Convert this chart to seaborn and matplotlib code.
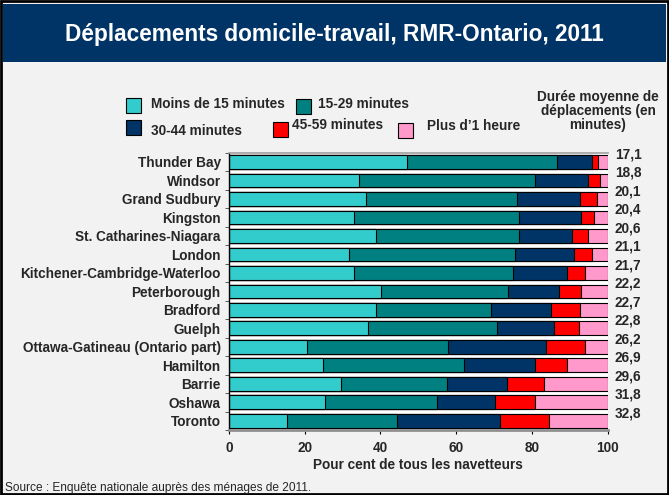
import numpy as np
import pandas as pd
import seaborn as sns
import matplotlib.pyplot as plt
from matplotlib.patches import Rectangle
from matplotlib.transforms import offset_copy

# Data
cities = ['Thunder Bay', 'Windsor', 'Grand Sudbury', 'Kingston', 'St. Catharines-Niagara',
          'London', 'Kitchener-Cambridge-Waterloo', 'Peterborough', 'Bradford', 'Guelph',
          'Ottawa-Gatineau (Ontario part)', 'Hamilton', 'Barrie', 'Oshawa', 'Toronto']
moins_15 = [46.9, 34.2, 36.2, 32.9, 38.8, 31.7, 33.1, 40.2, 38.8, 36.6, 20.7, 24.8, 29.6, 25.4, 15.2]
min_15_29 = [39.8, 46.6, 39.9, 43.6, 37.9, 43.9, 42.0, 33.5, 30.5, 34.2, 37.1, 37.2, 28.0, 29.5, 29.1]
min_30_44 = [9.1, 13.9, 16.6, 16.4, 14.0, 15.6, 14.1, 13.5, 15.6, 14.9, 25.9, 18.9, 15.9, 15.3, 27.3]
min_45_59 = [1.7, 3.3, 4.4, 3.6, 4.2, 4.6, 4.7, 5.7, 7.8, 6.8, 10.3, 8.3, 9.6, 10.7, 12.8]
plus_1h = [2.5, 2.0, 2.9, 3.5, 5.1, 4.2, 6.1, 7.1, 7.3, 7.5, 6.0, 10.8, 16.9, 19.1, 15.6]
duree = ['17,1', '18,8', '20,1', '20,4', '20,6', '21,1', '21,7', '22,2', '22,7', '22,8',
         '26,2', '26,9', '29,6', '31,8', '32,8']

series = ['Moins de 15 minutes', '15-29 minutes', '30-44 minutes', '45-59 minutes', 'Plus d\u20191 heure']
colors = ['#33CCCC', '#008080', '#003366', '#FF0000', '#FF99CC']

df = pd.DataFrame({'ville': cities})
parts = [moins_15, min_15_29, min_30_44, min_45_59, plus_1h]
cum = np.cumsum(np.array(parts), axis=0)

sns.set_style('white')
plt.rcParams['font.family'] = ['Liberation Sans', 'DejaVu Sans']
plt.rcParams['font.weight'] = 'bold'

FS = 9.8
W, H = 669, 495
fig = plt.figure(figsize=(W / 100, H / 100), dpi=100, facecolor='#F2F2F2')


def fx(px):
    return px / W


def fy(py):
    return 1 - py / H


# Title banner
fig.add_artist(Rectangle((fx(3), fy(62)), fx(663), 58 / H, transform=fig.transFigure,
                         facecolor='#003366', edgecolor='none'))
fig.text(0.5, fy(34), 'D\u00e9placements domicile-travail, RMR-Ontario, 2011',
         ha='center', va='center', color='white', fontsize=16.3, fontweight='bold')

ax = fig.add_axes([fx(229), fy(430), fx(607.7) - fx(229), (430 - 152.7) / H])
ax.set_facecolor('white')

# Stacked bars: draw cumulative totals from the largest down
for k in range(4, -1, -1):
    df['val'] = cum[k]
    sns.barplot(data=df, x='val', y='ville', order=cities, orient='h', color=colors[k],
                width=0.74, edgecolor='black', linewidth=0.8, saturation=1, ax=ax)

ax.set_xlim(0, 100)
ax.set_ylim(14.5, -0.5)
ax.set_xticks([0, 20, 40, 60, 80, 100])
ax.set_xlabel('Pour cent de tous les navetteurs', fontsize=FS, fontweight='bold', labelpad=2)
ax.set_ylabel('')
ax.tick_params(axis='x', labelsize=FS, length=3, pad=5, bottom=True, color='black')
ax.tick_params(axis='y', labelsize=FS, length=0, pad=6)
ax.set_yticks(np.arange(-0.5, 15, 1), minor=True)
ax.tick_params(axis='y', which='minor', length=3, left=True, color='#404040')
for lbl in ax.get_xticklabels() + ax.get_yticklabels():
    lbl.set_fontweight('bold')

ax.spines['top'].set_color('#A0A0A0')
ax.spines['top'].set_linewidth(1.2)
ax.spines['bottom'].set_color('#909090')
ax.spines['bottom'].set_linewidth(2)
ax.spines['left'].set_color('black')
ax.spines['left'].set_linewidth(1)
ax.spines['right'].set_visible(False)

# Average duration labels
trans = offset_copy(ax.transData, fig=fig, x=0, y=7.5, units='dots')
for i, d in enumerate(duree):
    ax.text(105.4, i, d, transform=trans, ha='center', va='center', fontsize=FS,
            fontweight='bold', clip_on=False)

# Legend (manual layout)
leg = [(126, 98, 151, 104), (296, 99, 318, 104), (126, 120, 151, 131),
       (273, 122, 292, 125), (398, 123, 427, 126)]
for (bx, by, tx, ty), name, c in zip(leg, series, colors):
    fig.add_artist(Rectangle((fx(bx), fy(by + 15)), 15 / W, 15 / H, transform=fig.transFigure,
                             facecolor=c, edgecolor='black', linewidth=0.8))
    fig.text(fx(tx), fy(ty), name, ha='left', va='center', fontsize=FS, fontweight='bold')

fig.text(fx(598), fy(111), 'Dur\u00e9e moyenne de\nd\u00e9placements (en\nminutes)',
         ha='center', va='center', fontsize=FS, fontweight='bold', linespacing=1.03)

fig.text(fx(5), fy(488), 'Source : Enqu\u00eate nationale aupr\u00e8s des m\u00e9nages de 2011.',
         ha='left', va='center', fontsize=8.6, fontweight='normal')

# Outer frame
fig.add_artist(Rectangle((0.002, 0.002), 0.996, 0.996, transform=fig.transFigure,
                         fill=False, edgecolor='black', linewidth=2))

fig.savefig('out.png', dpi=100, facecolor=fig.get_facecolor())
